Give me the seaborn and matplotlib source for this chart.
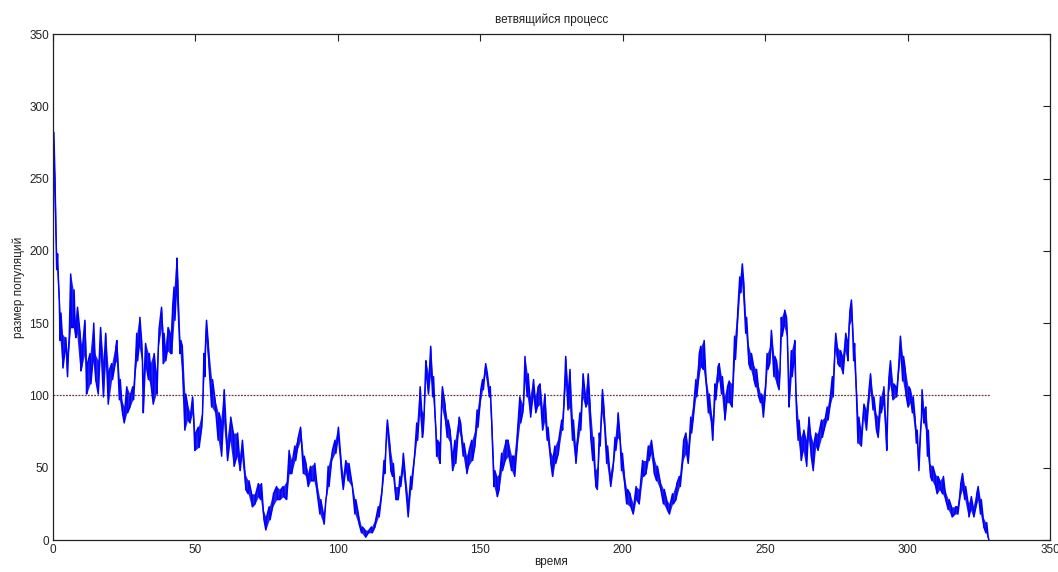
import numpy as np
import pandas as pd
import matplotlib
matplotlib.use("Agg")
import matplotlib.pyplot as plt
import seaborn as sns

# ---- data: time knots with local low / high of the trace ----
time_knots = [
    0.0, 0.7, 1.3, 1.9, 2.5, 3.2, 4.2, 4.8, 5.4, 6.2, 7.1, 7.7, 8.3, 9.5, 10.1, 11.2, 11.8, 13.0, 14.0, 14.7,
    15.9, 16.7, 17.7, 18.5, 19.4, 20.6, 21.8, 22.4, 23.3, 24.1, 25.0, 25.9, 27.0, 28.0, 28.8, 29.4, 30.2, 31.1, 31.7, 32.5,
    33.5, 34.1, 35.2, 36.2, 37.0, 38.1, 38.7, 39.3, 40.1, 41.1, 41.7, 42.5, 43.2, 43.8, 44.6, 45.4, 46.3, 47.2, 48.1, 49.0,
    49.8, 51.0, 52.2, 53.0, 53.6, 54.5, 55.7, 56.9, 58.0, 58.9, 59.8, 61.0, 62.1, 63.3, 64.5, 65.4, 66.2, 67.4, 68.5, 69.7,
    70.9, 72.1, 72.9, 73.8, 74.7, 75.9, 77.1, 78.5, 79.7, 80.8, 82.0, 82.9, 83.8, 84.9, 85.7, 86.9, 87.9, 88.8, 89.6, 90.4,
    91.6, 92.5, 93.7, 94.9, 95.8, 96.6, 97.8, 99.0, 99.9, 101.0, 101.9, 102.8, 103.6, 104.8, 106.0, 107.2, 108.3, 109.5, 110.7, 111.8,
    113.0, 114.2, 115.3, 116.2, 117.1, 118.3, 119.2, 120.1, 121.2, 121.8, 122.7, 123.6, 124.7, 125.6, 126.7, 127.7, 128.6, 129.4, 130.0, 130.9,
    131.8, 132.6, 133.3, 134.1, 134.7, 135.6, 136.4, 137.6, 138.4, 139.4, 140.3, 141.1, 142.3, 143.1, 144.0, 145.0, 145.8, 147.0, 148.1, 148.9,
    149.9, 150.8, 151.6, 152.5, 153.2, 154.0, 154.8, 155.7, 156.6, 157.5, 158.7, 159.8, 161.0, 161.8, 162.8, 163.9, 164.9, 165.7, 166.5, 167.4,
    168.4, 169.2, 170.0, 171.0, 171.9, 172.7, 173.5, 174.5, 175.4, 176.2, 177.4, 178.6, 179.4, 180.0, 180.8, 181.5, 182.4, 183.3, 184.1, 185.0,
    185.8, 186.8, 187.6, 188.5, 189.5, 190.3, 191.1, 191.8, 192.6, 193.4, 194.4, 195.5, 196.5, 197.3, 198.1, 198.8, 199.6, 200.5, 201.4, 202.6,
    203.7, 204.7, 205.8, 207.0, 208.2, 209.0, 209.8, 210.8, 211.9, 213.1, 214.3, 215.4, 216.4, 217.5, 218.7, 219.9, 221.1, 222.2, 223.0, 223.9,
    224.8, 225.7, 226.6, 227.4, 228.3, 229.2, 230.1, 230.9, 231.6, 232.4, 233.2, 233.9, 234.7, 235.6, 236.5, 237.4, 238.4, 239.3, 240.1, 241.1,
    241.7, 242.5, 243.2, 244.0, 244.9, 245.8, 246.7, 247.5, 248.4, 249.1, 249.9, 250.7, 251.6, 252.2, 253.1, 254.0, 254.9, 255.7, 256.6, 257.5,
    258.4, 259.2, 260.1, 260.8, 261.6, 262.4, 263.3, 264.3, 265.1, 265.9, 266.9, 267.8, 268.6, 269.8, 270.9, 271.8, 272.7, 273.6, 274.5, 275.3,
    276.2, 277.1, 278.0, 278.8, 279.5, 280.3, 281.1, 281.8, 282.6, 283.5, 284.4, 285.3, 286.2, 287.0, 287.9, 288.8, 289.7, 290.5, 291.4, 292.4,
    293.2, 294.0, 294.9, 295.9, 296.7, 297.5, 298.3, 299.2, 300.2, 301.0, 301.7, 302.6, 303.1, 303.7, 304.6, 305.1, 305.7, 306.4, 307.0, 307.8,
    308.6, 309.6, 310.4, 311.3, 312.3, 313.1, 314.3, 315.4, 316.6, 317.4, 318.4, 319.3, 320.1, 321.3, 322.1, 323.0, 324.0, 324.8, 325.6, 326.5,
    327.5, 328.3,
]
pop_low = [
    255, 214, 187, 166, 138, 119, 131, 113, 129, 147, 147, 140, 143, 117, 120, 129, 101, 108, 124, 111,
    101, 129, 99, 124, 94, 111, 122, 124, 97, 88, 81, 88, 92, 97, 115, 124, 134, 124, 88, 120,
    111, 108, 94, 101, 134, 147, 122, 124, 131, 129, 129, 152, 170, 152, 129, 108, 76, 83, 81, 88,
    62, 64, 78, 113, 138, 120, 92, 88, 69, 58, 83, 55, 69, 51, 58, 48, 58, 35, 32, 23,
    25, 30, 28, 14, 7, 14, 23, 28, 28, 30, 28, 46, 46, 55, 62, 69, 46, 44, 37, 41,
    41, 32, 18, 11, 28, 37, 55, 60, 69, 46, 35, 48, 41, 37, 18, 11, 5, 2, 5, 5,
    9, 16, 30, 46, 74, 48, 44, 28, 28, 37, 48, 35, 16, 35, 53, 69, 88, 71, 76, 113,
    101, 115, 99, 76, 58, 53, 92, 81, 71, 67, 48, 53, 76, 71, 58, 46, 51, 55, 65, 78,
    94, 104, 115, 106, 99, 65, 37, 30, 35, 48, 55, 58, 48, 44, 62, 81, 88, 111, 99, 85,
    99, 88, 92, 94, 76, 83, 69, 53, 44, 53, 60, 76, 94, 110, 90, 92, 69, 53, 65, 76,
    99, 92, 95, 71, 55, 37, 35, 65, 88, 78, 53, 37, 48, 62, 71, 69, 48, 37, 25, 23,
    18, 28, 25, 44, 46, 55, 60, 46, 41, 35, 25, 21, 18, 25, 28, 37, 55, 60, 53, 74,
    85, 99, 111, 120, 118, 104, 88, 81, 69, 97, 108, 111, 101, 83, 95, 95, 92, 125, 143, 171,
    178, 159, 143, 122, 118, 111, 106, 99, 95, 85, 97, 118, 122, 134, 113, 108, 104, 141, 148, 141,
    92, 113, 124, 85, 69, 55, 62, 51, 71, 58, 48, 65, 62, 71, 78, 83, 92, 99, 131, 122,
    120, 115, 131, 124, 148, 152, 124, 99, 67, 65, 85, 76, 92, 104, 90, 76, 71, 88, 94, 62,
    101, 108, 97, 99, 113, 127, 110, 100, 92, 95, 88, 74, 67, 48, 76, 92, 81, 76, 58, 44,
    41, 37, 32, 35, 32, 28, 21, 16, 18, 18, 30, 35, 28, 16, 21, 16, 23, 28, 18, 9,
    5, 0,
]
pop_high = [
    282, 250, 198, 180, 157, 143, 140, 129, 140, 184, 173, 152, 161, 143, 134, 152, 122, 129, 150, 129,
    124, 147, 124, 143, 117, 122, 134, 138, 111, 97, 92, 106, 101, 106, 129, 143, 154, 138, 111, 136,
    129, 122, 129, 115, 147, 161, 143, 134, 147, 143, 161, 175, 195, 180, 138, 134, 101, 94, 88, 99,
    74, 78, 88, 129, 152, 136, 111, 97, 88, 83, 104, 69, 85, 74, 74, 58, 69, 46, 41, 32,
    32, 39, 39, 21, 16, 23, 32, 37, 35, 37, 41, 62, 55, 65, 70, 78, 58, 53, 46, 51,
    53, 41, 28, 18, 32, 51, 62, 69, 78, 58, 44, 55, 53, 41, 28, 18, 9, 7, 7, 9,
    14, 23, 37, 55, 83, 65, 53, 37, 37, 44, 60, 46, 28, 44, 60, 81, 106, 90, 88, 124,
    115, 134, 113, 88, 69, 67, 106, 94, 83, 76, 60, 69, 85, 81, 67, 58, 62, 69, 76, 90,
    104, 111, 122, 115, 106, 83, 48, 44, 46, 60, 69, 69, 58, 58, 76, 99, 94, 127, 115, 99,
    111, 99, 106, 108, 90, 101, 78, 62, 58, 65, 71, 83, 111, 127, 106, 118, 83, 65, 76, 88,
    115, 101, 115, 95, 71, 48, 51, 74, 104, 92, 65, 46, 55, 71, 88, 78, 60, 46, 35, 32,
    25, 37, 35, 55, 55, 65, 69, 58, 51, 41, 35, 28, 25, 32, 39, 44, 69, 74, 65, 85,
    97, 111, 129, 134, 138, 113, 101, 90, 83, 108, 120, 122, 113, 99, 106, 110, 108, 141, 158, 182,
    191, 178, 154, 136, 129, 122, 118, 108, 101, 99, 108, 129, 134, 145, 127, 124, 115, 154, 159, 154,
    108, 131, 138, 104, 83, 71, 76, 69, 85, 74, 67, 74, 74, 83, 85, 92, 101, 113, 143, 134,
    131, 127, 143, 138, 159, 166, 136, 115, 85, 76, 94, 90, 104, 115, 99, 88, 85, 99, 106, 78,
    113, 124, 108, 106, 124, 141, 127, 118, 106, 104, 99, 85, 76, 62, 85, 104, 90, 92, 76, 53,
    51, 46, 44, 41, 44, 35, 28, 23, 23, 23, 39, 46, 37, 25, 30, 23, 32, 37, 28, 16,
    12, 2,
]
# reference level line (dotted) drawn at the mean level
ref_time = [0, 329]
ref_level = [100, 100]

x_ticks = [0, 50, 100, 150, 200, 250, 300, 350]
y_ticks = [0, 50, 100, 150, 200, 250, 300, 350]

title_text = "ветвящийся процесс"
x_label = "время"
y_label = "размер популяций"

# ---- build the trace: the line runs between local low and high at each knot ----
tt, yy = [], []
for i, (t, lo, hi) in enumerate(zip(time_knots, pop_low, pop_high)):
    if i % 2 == 0:
        tt += [t, t + 0.3]
        yy += [lo, hi]
    else:
        tt += [t, t + 0.3]
        yy += [hi, lo]
trace = pd.DataFrame({"t": tt, "n": yy})
ref = pd.DataFrame({"t": ref_time, "n": ref_level})

sns.set_theme(style="white")
plt.rcParams["font.family"] = ["Liberation Sans", "DejaVu Sans"]
plt.rcParams["xtick.direction"] = "in"
plt.rcParams["ytick.direction"] = "in"

fig = plt.figure(figsize=(10.58, 5.72), dpi=100, facecolor="white")
ax = fig.add_axes([0.0501, 0.0559, 0.9423, 0.8846])
ax.set_facecolor("white")

sns.lineplot(data=ref, x="t", y="n", ax=ax, color="#6b3a3a", lw=0.9,
             linestyle=(0, (1.5, 1)), sort=False, estimator=None)
# filled band of the noisy trace
ax.fill_between(time_knots, pop_low, pop_high, color="#0a0ae6", lw=0, alpha=0.9)
sns.lineplot(data=trace, x="t", y="n", ax=ax, color="#0000ff", lw=1.1,
             sort=False, estimator=None)

ax.set_xlim(0, 350)
ax.set_ylim(0, 350)
ax.set_xticks(x_ticks)
ax.set_yticks(y_ticks)
ax.set_xticklabels([str(v) for v in x_ticks])
ax.set_yticklabels([str(v) for v in y_ticks])
ax.tick_params(axis="both", which="both", direction="in", length=5, width=0.8,
               top=True, right=True, labelsize=8.5, colors="#222222", pad=3)
for s in ax.spines.values():
    s.set_visible(True)
    s.set_color("#222222")
    s.set_linewidth(0.9)

ax.set_title(title_text, fontsize=8.5, color="#222222", pad=8)
ax.set_xlabel(x_label, fontsize=8.5, color="#222222", labelpad=0)
ax.set_ylabel(y_label, fontsize=8.5, color="#222222", labelpad=3)

fig.savefig("out.png", dpi=100, facecolor="white")
